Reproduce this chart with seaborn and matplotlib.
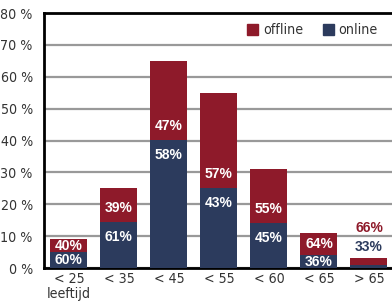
import os
import numpy as np
import pandas as pd
import matplotlib
matplotlib.use("Agg")
import matplotlib.pyplot as plt
import seaborn as sns
from matplotlib.patches import Patch
from matplotlib import font_manager as fm

# =========================
# DATA
# =========================
categories = ["< 25\nleeftijd", "< 35", "< 45", "< 55", "< 60", "< 65", "> 65"]
total = [9, 25, 65, 55, 31, 11, 3]          # total bar height (%)
online = [5, 14.5, 40.3, 25, 14, 4, 1]      # online part (%)
pct_offline = ["40%", "39%", "47%", "57%", "55%", "64%", "66%"]
pct_online = ["60%", "61%", "58%", "43%", "45%", "36%", "33%"]
y_ticks = [0, 10, 20, 30, 40, 50, 60, 70, 80]

RED = "#8E1A2A"
NAVY = "#2C3B5D"

df = pd.DataFrame({"cat": categories, "total": total, "online": online})

# =========================
# FONTS: look for a narrow regular file
# =========================
files = fm.findSystemFonts() + [f.fname for f in fm.fontManager.ttflist]
narrow_path = None
for key in ["liberationsansnarrow-regular", "dejavusanscondensed.", "condensed-regular",
            "narrow-regular", "condensed"]:
    for p in files:
        b = os.path.basename(p).lower()
        if key in b and not any(w in b for w in ["bold", "italic", "oblique", "light"]):
            narrow_path = p
            break
    if narrow_path:
        break

sns.set_style("white")
plt.rcParams["font.family"] = ["Liberation Sans", "DejaVu Sans"]
if narrow_path:
    tick_font = fm.FontProperties(fname=narrow_path, size=10.2)
else:
    tick_font = fm.FontProperties(family=["Liberation Sans", "DejaVu Sans"], size=9.5)

fig = plt.figure(figsize=(3.92, 3.01), dpi=100)
ax = fig.add_axes([0.112, 0.1096, 0.893, 0.847])

# stacked bars: full bar in red, online part in navy on top of it
sns.barplot(data=df, x="cat", y="total", color=RED, width=0.74, saturation=1,
            linewidth=0, ax=ax, zorder=2)
sns.barplot(data=df, x="cat", y="online", color=NAVY, width=0.74, saturation=1,
            linewidth=0, ax=ax, zorder=3)

ax.set_xlim(-0.5, len(categories) - 0.5)
ax.set_ylim(0, 80)
ax.set_yticks(y_ticks)
ax.set_yticklabels([f"{t} %" for t in y_ticks])
ax.set_xlabel("")
ax.set_ylabel("")

ax.yaxis.grid(True, color="#999999", linewidth=1.6, zorder=0)
ax.set_axisbelow(True)

for s in ["left", "top", "bottom"]:
    ax.spines[s].set_color("black")
    ax.spines[s].set_linewidth(2)
ax.spines["right"].set_visible(False)

ax.tick_params(axis="y", length=0, pad=8, labelcolor="#333333")
ax.tick_params(axis="x", length=0, pad=3, labelcolor="#333333")
for lab in ax.get_yticklabels() + ax.get_xticklabels():
    lab.set_fontproperties(tick_font)
for lab in ax.get_xticklabels():
    lab.set_linespacing(1.1)

# small inward ticks between categories
ax.set_xticks(np.arange(0.5, len(categories) - 0.5, 1), minor=True)
ax.tick_params(axis="x", which="minor", direction="in", length=5, width=1.6, color="black")

# =========================
# LABELS
# =========================
px_per_unit = ax.bbox.height / 80
lab_kw = dict(ha="center", va="center", fontsize=10, fontweight="bold",
              family=["Liberation Sans", "DejaVu Sans"],
              textcoords="offset pixels", zorder=5)
for i in range(len(categories)):
    off_h = (total[i] - online[i]) * px_per_unit
    on_h = online[i] * px_per_unit
    if total[i] < 5:
        ax.annotate(pct_online[i], (i, total[i]), xytext=(0, 11), color=NAVY, **lab_kw)
        ax.annotate(pct_offline[i], (i, total[i]), xytext=(0, 30), color=RED, **lab_kw)
        continue
    ax.annotate(pct_offline[i], (i, online[i]), xytext=(0, min(14, off_h / 2)),
                color="white", **lab_kw)
    ax.annotate(pct_online[i], (i, online[i]), xytext=(0, -min(15, on_h / 2)),
                color="white", **lab_kw)

# =========================
# LEGEND
# =========================
handles = [Patch(color=RED, label="offline"), Patch(color=NAVY, label="online")]
ax.legend(handles=handles, loc="upper right", bbox_to_anchor=(0.99, 1.01), ncol=2,
          frameon=False, handlelength=0.75, handleheight=0.75, handletextpad=0.35,
          columnspacing=1.4, prop=tick_font, labelcolor="#333333")

plt.savefig("out.png", dpi=100)
